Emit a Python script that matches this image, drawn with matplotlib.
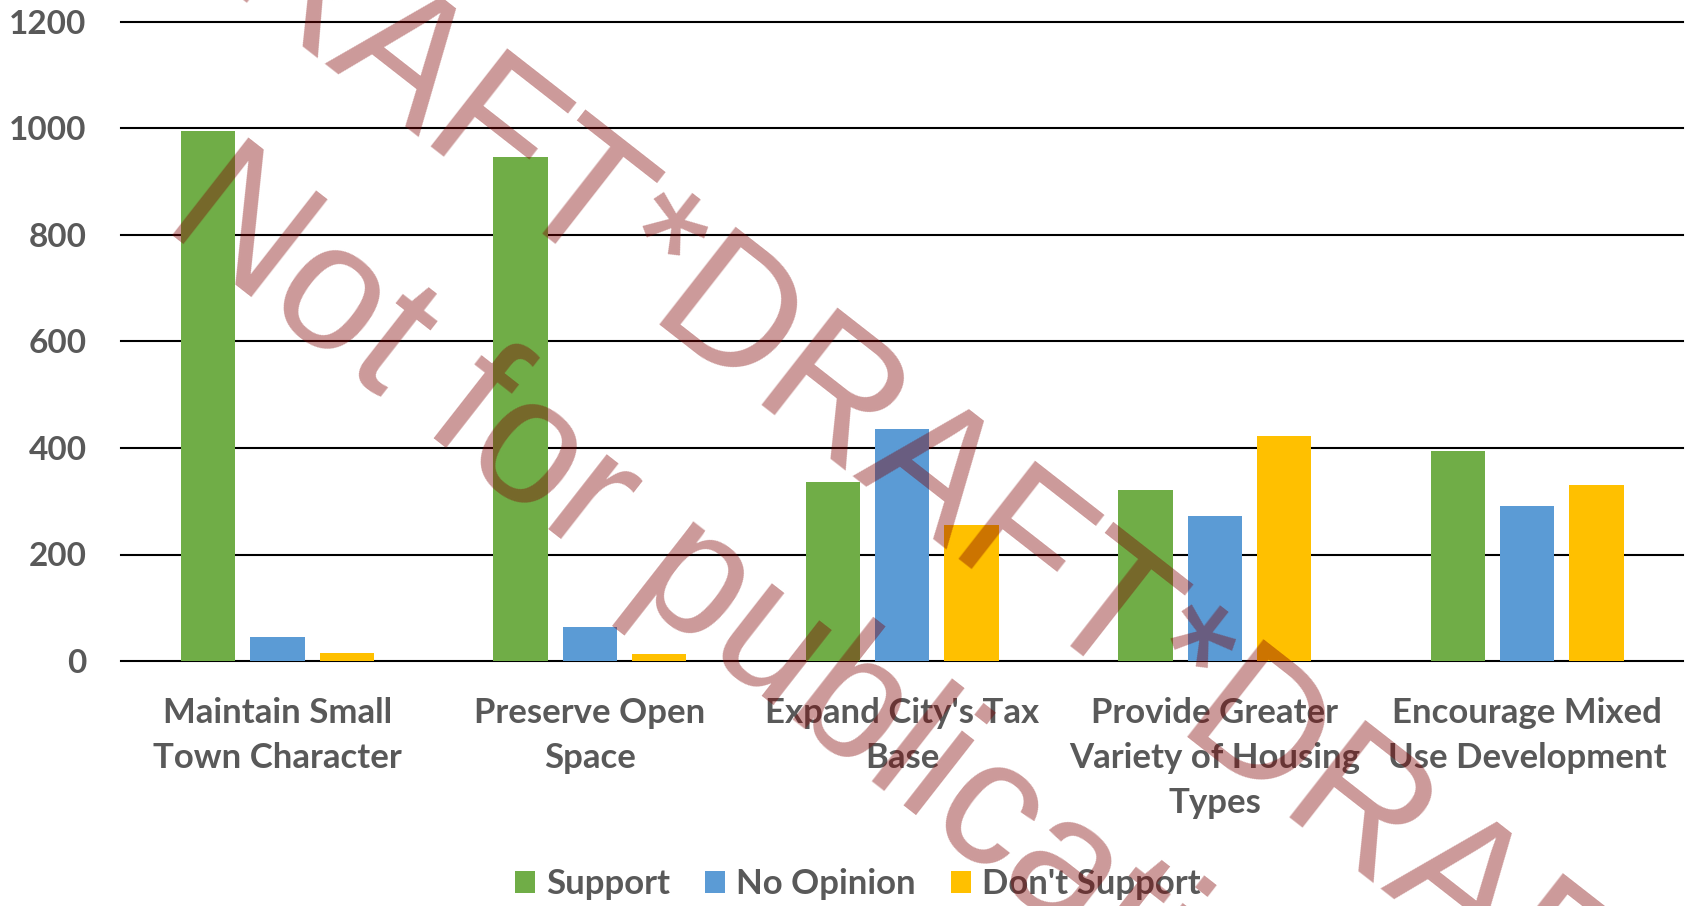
import numpy as np
import matplotlib
matplotlib.use("Agg")
import matplotlib.pyplot as plt

# data
categories = ["Maintain Small\nTown Character", "Preserve Open\nSpace",
              "Expand City's Tax\nBase", "Provide Greater\nVariety of Housing\nTypes",
              "Encourage Mixed\nUse Development"]
support = [996, 947, 336, 321, 394]
no_opinion = [45, 63, 436, 272, 292]
dont_support = [15, 14, 255, 423, 331]
series_names = ["Support", "No Opinion", "Don't Support"]
colors = ["#70AD47", "#5B9BD5", "#FFC000"]
yticks = [0, 200, 400, 600, 800, 1000, 1200]

W, H = 1688, 906
txt = "#595959"
font = "Lato"

fig = plt.figure(figsize=(W / 100, H / 100), dpi=100)
ax = fig.add_axes([121.3 / W, 1 - 661 / H, (1683.3 - 121.3) / W, (661 - 22) / H])

x = np.arange(len(categories))
bw = 0.174
step = 0.222
for i, (vals, name, c) in enumerate(zip([support, no_opinion, dont_support], series_names, colors)):
    ax.bar(x + (i - 1) * step, vals, bw, color=c, label=name, zorder=3)

ax.set_xlim(-0.5, len(categories) - 0.5)
ax.set_ylim(0, 1200)
ax.set_yticks(yticks)
ax.set_xticks(x)
ax.set_xticklabels(categories)
for t in yticks:
    ax.axhline(t, color="black", lw=1.5, zorder=1, clip_on=False)
for s in ax.spines.values():
    s.set_visible(False)

ax.tick_params(axis="y", length=0, pad=25, labelsize=24, labelcolor=txt)
ax.tick_params(axis="x", length=0, pad=26, labelsize=25, labelcolor=txt)
for lab in ax.get_xticklabels() + ax.get_yticklabels():
    lab.set_fontfamily(font)
    lab.set_fontweight("bold")
for lab in ax.get_xticklabels():
    lab.set_linespacing(1.5)

leg = ax.legend(loc="center", bbox_to_anchor=(858 / W, 1 - 884 / H),
                bbox_transform=fig.transFigure, ncol=3, frameon=False,
                prop=dict(family=font, weight="bold", size=25),
                handlelength=0.58, handleheight=0.58, handletextpad=0.32,
                columnspacing=1.0, borderpad=0, labelcolor=txt)

# watermark
ang = 38.0
em = 180.0
fs_wm = em * 72 / 100
d = np.array([np.cos(np.radians(ang)), np.sin(np.radians(ang))])
d_start = np.array([644.0, 324.0]) - 3.722 * em * d
fig.text(d_start[0] / W, 1 - d_start[1] / H, "DRAFT*DRAFT*DRAFT*DRAFT",
         rotation=-ang, rotation_mode="anchor", ha="left", va="baseline",
         fontsize=fs_wm, family="Liberation Sans", color="#800000", alpha=0.4, zorder=10)
fig.text(160 / W, 1 - 226 / H, "Not for publication",
         rotation=-ang, rotation_mode="anchor", ha="left", va="baseline",
         fontsize=fs_wm, family="Liberation Sans", color="#800000", alpha=0.4, zorder=10)

fig.savefig("out.png", dpi=100)
